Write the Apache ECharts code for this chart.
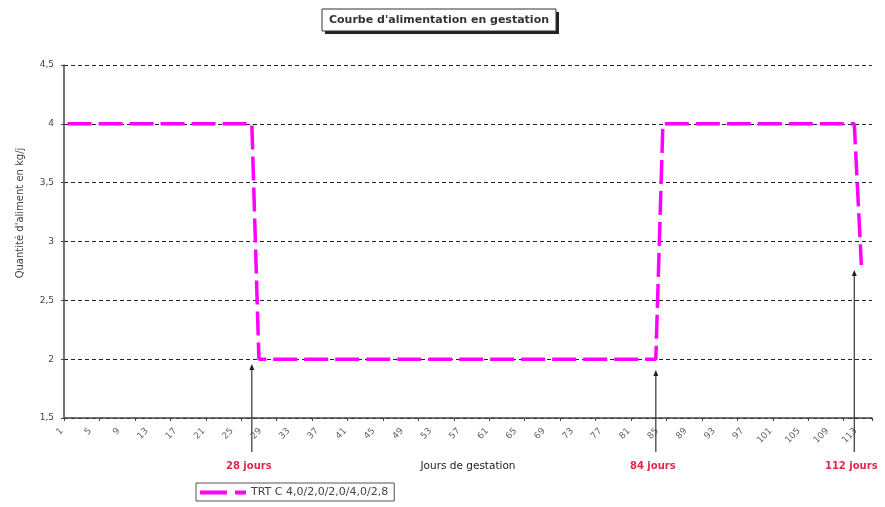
<!DOCTYPE html>
<html>
<head>
<meta charset="utf-8">
<script src="https://cdn.jsdelivr.net/npm/echarts@6/dist/echarts.min.js"></script>
<style>
  html, body { margin: 0; padding: 0; background: #ffffff; }
  #chart { width: 885px; height: 507px; }
</style>
</head>
<body>
<div id="chart"></div>
<script>
// Gestation days (one category per day)
var days = ['1','2','3','4','5','6','7','8','9','10','11','12','13','14','15','16','17','18','19','20',
  '21','22','23','24','25','26','27','28','29','30','31','32','33','34','35','36','37','38','39','40',
  '41','42','43','44','45','46','47','48','49','50','51','52','53','54','55','56','57','58','59','60',
  '61','62','63','64','65','66','67','68','69','70','71','72','73','74','75','76','77','78','79','80',
  '81','82','83','84','85','86','87','88','89','90','91','92','93','94','95','96','97','98','99','100',
  '101','102','103','104','105','106','107','108','109','110','111','112','113','114'];

// Daily feed ration (kg/j) for the TRT C plan
var feedTRTC = [4,4,4,4,4,4,4,4,4,4,4,4,4,4,4,4,4,4,4,4,
  4,4,4,4,4,4,4,2,2,2,2,2,2,2,2,2,2,2,2,2,
  2,2,2,2,2,2,2,2,2,2,2,2,2,2,2,2,2,2,2,2,
  2,2,2,2,2,2,2,2,2,2,2,2,2,2,2,2,2,2,2,2,
  2,2,2,2,4,4,4,4,4,4,4,4,4,4,4,4,4,4,4,4,
  4,4,4,4,4,4,4,4,4,4,4,4,2.8,null];

var seriesName = 'TRT C 4,0/2,0/2,0/4,0/2,8';

// Phase-change markers: label, category index, arrow tip value
var markerLabels = ['28 jours', '84 jours', '112 jours'];
var markerIndex = [26, 83, 111];
var markerTip = [1.95, 1.9, 2.75];

var yMin = 1.5, yMax = 4.5, yStep = 0.5;

var FONT = '"DejaVu Sans", Verdana, sans-serif';
var chart = echarts.init(document.getElementById('chart'), null, { renderer: 'canvas' });

var option = {
  animation: false,
  backgroundColor: '#ffffff',
  textStyle: { fontFamily: FONT },
  grid: { left: 64, right: 13, top: 65, bottom: 89, containLabel: false },
  legend: {
    left: 196, top: 483,
    padding: [4, 6, 3, 4],
    borderColor: '#555', borderWidth: 1,
    itemWidth: 46, itemHeight: 4, itemGap: 4,
    icon: 'path://M0,0H27V4H0Z M35,0H46V4H35Z',
    textStyle: { fontFamily: FONT, fontSize: 11, color: '#444' },
    data: [seriesName]
  },
  xAxis: {
    type: 'category',
    data: days,
    boundaryGap: true,
    name: 'Jours de gestation',
    nameLocation: 'middle',
    nameGap: 43,
    nameTextStyle: { fontFamily: FONT, fontSize: 10.5, color: '#222' },
    axisLine: { lineStyle: { color: '#444', width: 1.5 } },
    axisTick: { show: true, interval: 4, length: 3, lineStyle: { color: '#444' } },
    axisLabel: {
      interval: 3, rotate: 45, fontSize: 9, color: '#666', margin: 6,
      fontFamily: FONT, padding: [0, 8, 0, 0]
    },
    splitLine: { show: false }
  },
  yAxis: {
    type: 'value',
    min: yMin, max: yMax, interval: yStep,
    axisLine: { show: true, lineStyle: { color: '#444', width: 1.5 } },
    axisTick: { show: true, length: 3, lineStyle: { color: '#444' } },
    axisLabel: {
      fontSize: 9, color: '#444', margin: 10, fontFamily: FONT,
      formatter: function (v) { return String(v).replace('.', ','); }
    },
    splitLine: { show: true, lineStyle: { color: '#222', type: [4, 3], width: 1 } }
  },
  series: [{
    name: seriesName,
    type: 'line',
    data: feedTRTC,
    showSymbol: false,
    symbol: 'none',
    connectNulls: false,
    lineStyle: { color: '#ff00ff', width: 3.5, type: [24, 7] },
    itemStyle: { color: '#ff00ff' }
  }]
};

chart.setOption(option);

// Title box, y-axis caption and phase-change arrows placed from the axis scales
function buildGraphics() {
  var els = [];
  els.push({
    type: 'rect', shape: { x: 325, y: 12, width: 234, height: 22 },
    style: { fill: '#222' }, z: 10
  });
  els.push({
    type: 'rect', shape: { x: 322, y: 9, width: 234, height: 22 },
    style: { fill: '#ffffff', stroke: '#333', lineWidth: 1 }, z: 11
  });
  els.push({
    type: 'text', x: 439, y: 20.5, z: 12,
    style: {
      text: "Courbe d'alimentation en gestation",
      font: 'bold 11px ' + FONT, fill: '#333',
      textAlign: 'center', textVerticalAlign: 'middle'
    }
  });
  els.push({
    type: 'text', x: 20, y: 213, rotation: Math.PI / 2, z: 12,
    style: {
      text: "Quantité d'aliment en kg/j",
      font: '10px ' + FONT, fill: '#444',
      textAlign: 'center', textVerticalAlign: 'middle'
    }
  });

  var baseY = chart.convertToPixel({ yAxisIndex: 0 }, yMin);
  for (var i = 0; i < markerLabels.length; i++) {
    var px = chart.convertToPixel({ xAxisIndex: 0 }, markerIndex[i]);
    var tipY = chart.convertToPixel({ yAxisIndex: 0 }, markerTip[i]);
    var bottomY = baseY + 34;
    els.push({
      type: 'line', z: 20,
      shape: { x1: px, y1: bottomY, x2: px, y2: tipY + 2 },
      style: { stroke: '#333', lineWidth: 1.2 }
    });
    els.push({
      type: 'polygon', z: 21,
      shape: { points: [[px, tipY - 1], [px - 2.5, tipY + 5], [px + 2.5, tipY + 5]] },
      style: { fill: '#222' }
    });
    els.push({
      type: 'text', x: px - 3, y: baseY + 48, z: 20,
      style: {
        text: markerLabels[i], font: 'bold 10px ' + FONT, fill: '#e0284a',
        textAlign: 'center', textVerticalAlign: 'middle'
      }
    });
  }
  chart.setOption({ graphic: els });
}
buildGraphics();
</script>
</body>
</html>
